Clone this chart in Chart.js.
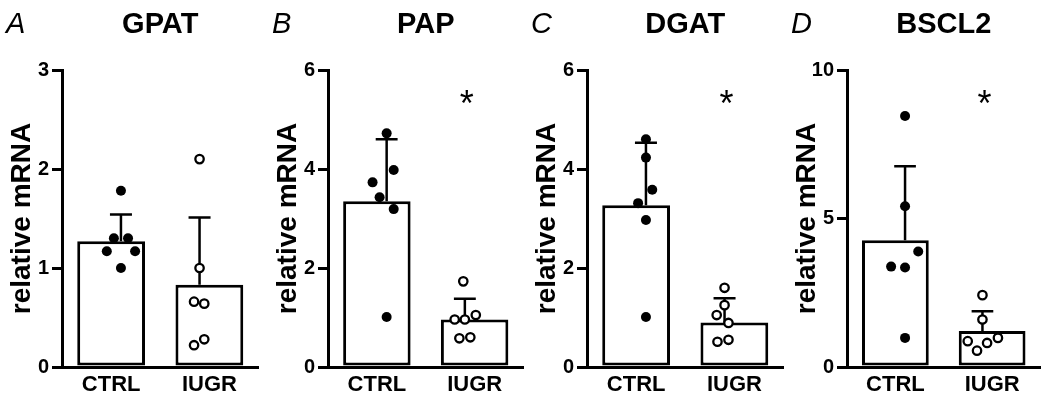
<!DOCTYPE html>
<html>
<head>
<meta charset="utf-8">
<script src="https://cdn.jsdelivr.net/npm/chart.js@4"></script>
<style>
  body { margin: 0; background: #fff; width: 1050px; height: 400px; position: relative; overflow: hidden; }
  .panel { position: absolute; top: 0; height: 400px; }
</style>
</head>
<body>
<div class="panel" style="left:0px"><canvas id="p0" width="265" height="400"></canvas></div>
<div class="panel" style="left:266px"><canvas id="p1" width="264" height="400"></canvas></div>
<div class="panel" style="left:525px"><canvas id="p2" width="265" height="400"></canvas></div>
<div class="panel" style="left:785px"><canvas id="p3" width="262" height="400"></canvas></div>
<script>
var groups = ["CTRL", "IUGR"];
var genes = ["GPAT", "PAP", "DGAT", "BSCL2"];
var letters = ["A", "B", "C", "D"];
var yMax = [3, 6, 6, 10];
var yStep = [1, 2, 2, 5];
var starred = [false, true, true, true];

// bar = mean, whisker = SD
var gpatMean = [1.27, 0.83];
var gpatSd = [0.27, 0.68];
var papMean = [3.35, 0.96];
var papSd = [1.25, 0.42];
var dgatMean = [3.27, 0.90];
var dgatSd = [1.26, 0.49];
var bsclMean = [4.27, 1.21];
var bsclSd = [2.49, 0.67];

// single animals (value + horizontal jitter in category units)
var gpatCtrl = [1.17, 1.30, 1.78, 1.00, 1.30, 1.17];
var gpatCtrlJit = [-0.18, -0.09, 0, 0, 0.09, 0.18];
var gpatIugr = [2.10, 1.00, 0.66, 0.64, 0.22, 0.28];
var gpatIugrJit = [0, 0, -0.07, 0.06, -0.07, 0.06];

var papCtrl = [4.72, 3.98, 3.73, 3.43, 3.19, 1.01];
var papCtrlJit = [0, 0.09, -0.18, -0.09, 0.09, 0];
var papIugr = [1.73, 0.96, 0.96, 1.05, 0.58, 0.60];
var papIugrJit = [-0.02, -0.13, 0, 0.14, -0.07, 0.07];

var dgatCtrl = [4.60, 4.23, 3.58, 3.31, 2.97, 1.01];
var dgatCtrlJit = [0, 0, 0.08, -0.1, 0, 0];
var dgatIugr = [1.60, 1.25, 1.05, 0.89, 0.51, 0.55];
var dgatIugrJit = [0, 0, -0.1, 0.05, -0.09, 0.05];

var bsclCtrl = [8.45, 5.41, 3.89, 3.38, 3.35, 0.98];
var bsclCtrlJit = [0, 0, 0.17, -0.18, 0, 0];
var bsclIugr = [2.42, 1.60, 0.87, 0.55, 0.81, 0.98];
var bsclIugrJit = [0, 0, -0.19, -0.07, 0.06, 0.2];

var means = [gpatMean, papMean, dgatMean, bsclMean];
var sds = [gpatSd, papSd, dgatSd, bsclSd];
var ctrlPts = [gpatCtrl, papCtrl, dgatCtrl, bsclCtrl];
var ctrlJit = [gpatCtrlJit, papCtrlJit, dgatCtrlJit, bsclCtrlJit];
var iugrPts = [gpatIugr, papIugr, dgatIugr, bsclIugr];
var iugrJit = [gpatIugrJit, papIugrJit, dgatIugrJit, bsclIugrJit];

var FONT = "'Liberation Sans', Arial, Helvetica, sans-serif";
Chart.defaults.font.family = FONT;
Chart.defaults.color = "#000";

function points(vals, jit, idx) {
  return vals.map(function (v, k) { return { x: idx + jit[k], y: v }; });
}

function errorLines(m, s) {
  var out = [];
  for (var i = 0; i < m.length; i++) {
    var top = m[i] + s[i];
    out.push({ x: i, y: m[i] }, { x: i, y: top }, { x: i, y: null });
    out.push({ x: i - 0.14, y: top }, { x: i + 0.14, y: top }, { x: i, y: null });
  }
  return out;
}

function labelPlugin(p) {
  return {
    id: "panelText",
    afterDraw: function (chart) {
      var ctx = chart.ctx, a = chart.chartArea;
      ctx.save();
      ctx.fillStyle = "#000";
      ctx.textBaseline = "middle";
      ctx.textAlign = "left";
      ctx.font = "italic 29px " + FONT;
      ctx.fillText(letters[p], 6, 25);
      ctx.textAlign = "center";
      ctx.font = "bold 29px " + FONT;
      ctx.fillText(genes[p], (a.left + a.right) / 2, 25);
      if (starred[p]) {
        var x = chart.scales.xs.getPixelForValue(1);
        ctx.font = "36px " + FONT;
        ctx.textBaseline = "alphabetic";
        ctx.fillText("*", x + 2, a.top + 25 + 0.58 * 36);
      }
      ctx.restore();
    }
  };
}

for (var p = 0; p < 4; p++) {
  new Chart(document.getElementById("p" + p), {
    type: "bar",
    data: {
      labels: groups,
      datasets: [
        {
          type: "scatter", xAxisID: "xs", order: 0,
          data: points(ctrlPts[p], ctrlJit[p], 0),
          pointRadius: 5, pointBackgroundColor: "#000", pointBorderWidth: 0
        },
        {
          type: "scatter", xAxisID: "xs", order: 0,
          data: points(iugrPts[p], iugrJit[p], 1),
          pointRadius: 4.2, pointBackgroundColor: "#fff", pointBorderColor: "#000", pointBorderWidth: 2.3
        },
        {
          type: "line", xAxisID: "xs", order: 1,
          data: errorLines(means[p], sds[p]),
          borderColor: "#000", borderWidth: 2.5, pointRadius: 0, spanGaps: false, fill: false
        },
        {
          type: "bar", xAxisID: "x", order: 2, grouped: false,
          data: means[p],
          backgroundColor: "#fff", borderColor: "#000", borderWidth: 3, borderSkipped: false,
          categoryPercentage: 1, barPercentage: 0.69
        }
      ]
    },
    options: {
      responsive: false,
      animation: false,
      events: [],
      layout: { padding: { top: 70, right: 5, left: 0, bottom: 0 } },
      plugins: { legend: { display: false }, tooltip: { enabled: false } },
      scales: {
        x: {
          type: "category",
          grid: { display: false, drawTicks: false },
          border: { display: true, color: "#000", width: 3 },
          ticks: { font: { size: 22, weight: "bold" }, color: "#000", padding: 5 },
          afterFit: function (s) { s.height = 33; }
        },
        xs: { type: "linear", min: -0.5, max: 1.5, display: false },
        y: {
          min: 0, max: yMax[p],
          ticks: { stepSize: yStep[p], font: { size: 20, weight: "bold" }, color: "#000", padding: 3 },
          grid: { drawOnChartArea: false, drawTicks: true, tickLength: 10, lineWidth: 3, color: "#000" },
          border: { display: true, color: "#000", width: 3 },
          title: { display: true, text: "relative mRNA", font: { size: 28, weight: "bold" }, color: "#000", padding: { top: 5, bottom: 0 } },
          afterFit: function (s) { s.width = 62; }
        }
      }
    },
    plugins: [labelPlugin(p)]
  });
}
</script>
</body>
</html>
